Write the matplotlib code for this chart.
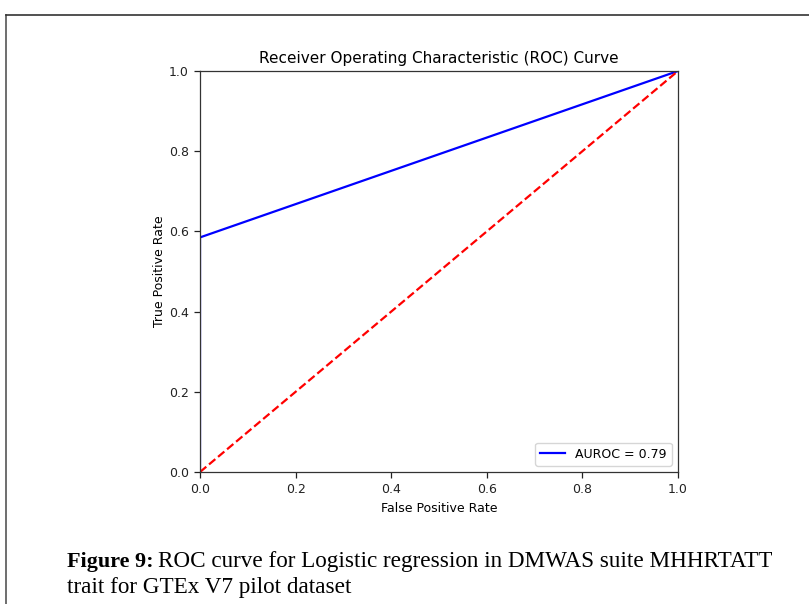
import matplotlib
matplotlib.use("Agg")
import matplotlib.pyplot as plt
from matplotlib.lines import Line2D

fpr = [0.0, 0.0, 1.0]
tpr = [0.0, 0.585, 1.0]
chance = [0.0, 1.0]
auroc = 0.79
ticks = [0.0, 0.2, 0.4, 0.6, 0.8, 1.0]

fig = plt.figure(figsize=(8.09, 6.04), dpi=100)
ax = fig.add_axes([200/809, 132/604, 478/809, 401/604])

ax.plot(fpr, tpr, color="blue", lw=1.6, label=f"AUROC = {auroc:.2f}")
ax.plot(chance, chance, color="red", ls="--", lw=1.6)
ax.set_xlim(0, 1)
ax.set_ylim(0, 1)
ax.set_xticks(ticks)
ax.set_yticks(ticks)
ax.tick_params(labelsize=9, length=4, width=0.9, pad=4, colors="#222222")
ax.set_xlabel("False Positive Rate", fontsize=9, labelpad=4)
ax.set_ylabel("True Positive Rate", fontsize=9, labelpad=2)
ax.set_title("Receiver Operating Characteristic (ROC) Curve", fontsize=11, pad=6)
ax.legend(loc="lower right", fontsize=9)
for s in ax.spines.values():
    s.set_linewidth(0.9)
    s.set_color("#333333")

# border lines of the framed figure
fig.add_artist(Line2D([6/809, 6/809], [0, 1 - 15/604], color="#555555", lw=1.2, transform=fig.transFigure))
fig.add_artist(Line2D([6/809, 1], [1 - 15/604, 1 - 15/604], color="#333333", lw=1.2, transform=fig.transFigure))

fs = 16.7
fig.text(67/809, 1 - 562/604, "Figure 9:", fontsize=15.9, family="Liberation Serif",
         fontweight="bold", va="center", ha="left")
fig.text(158/809, 1 - 562/604,
         "ROC curve for Logistic regression in DMWAS suite MHHRTATT",
         fontsize=fs, family="Liberation Serif", va="center", ha="left")
fig.text(67/809, 1 - 587/604, "trait for GTEx V7 pilot dataset",
         fontsize=fs, family="Liberation Serif", va="center", ha="left")

fig.savefig("out.png", dpi=100)
